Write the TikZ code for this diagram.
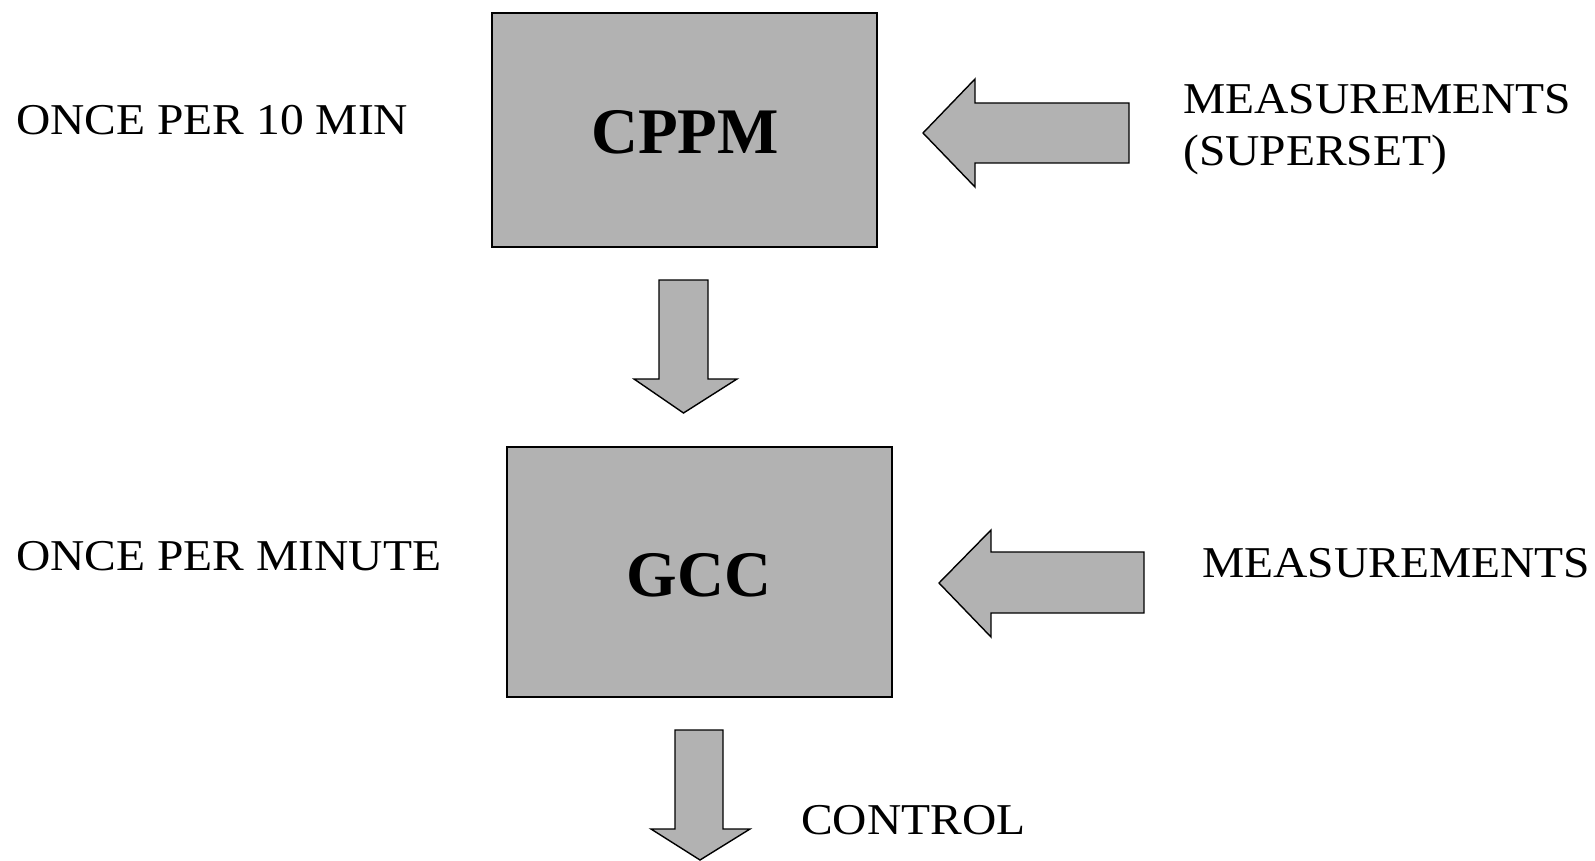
\documentclass[tikz,border=0pt]{standalone}
\usepackage{fontspec}
\setmainfont{Liberation Serif}
\begin{document}
\begin{tikzpicture}[x=1pt,y=-1pt,
  block/.style={draw=black,line width=1.6pt,fill=black!30},
  blockarrow/.style={draw=black,line width=1.4pt,fill=black!30,line join=miter},
  label/.style={font=\fontsize{44}{50}\selectfont,inner sep=0pt,xscale=1.08},
  title/.style={font=\fontsize{65}{70}\selectfont\bfseries,inner sep=0pt}]
\useasboundingbox (0,0) rectangle (1595,861);

% processing blocks
\draw[block] (492,13) rectangle (877,247);
\draw[block] (507,447) rectangle (892,697);
\node[title,anchor=base] (cppm) at (685,154) {CPPM};
\node[title,anchor=base] (gcc) at (699,596) {GCC};

% block arrows
\draw[blockarrow] (659,280) -- (708,280) -- (708,379) -- (737,379) -- (683.5,413)
  -- (634,379) -- (659,379) -- cycle;
\draw[blockarrow] (675,730) -- (723,730) -- (723,829) -- (750,829) -- (700,860)
  -- (651,829) -- (675,829) -- cycle;
\draw[blockarrow] (923,133) -- (975,79) -- (975,103) -- (1129,103) -- (1129,163)
  -- (975,163) -- (975,187) -- cycle;
\draw[blockarrow] (939,583) -- (991,530) -- (991,552) -- (1144,552) -- (1144,613)
  -- (991,613) -- (991,637) -- cycle;

% labels
\node[label,anchor=base west] (rate1) at (16,135) {ONCE PER 10 MIN};
\node[label,anchor=base west] (rate2) at (16,570) {ONCE PER MINUTE};
\node[label,anchor=base west] (meas1) at (1183,114) {MEASUREMENTS};
\node[label,anchor=base west] (meas1b) at (1183,166) {(SUPERSET)};
\node[label,anchor=base west] (meas2) at (1202,577) {MEASUREMENTS};
\node[label,anchor=base west] (ctrl) at (801,834) {CONTROL};
\end{tikzpicture}
\end{document}
